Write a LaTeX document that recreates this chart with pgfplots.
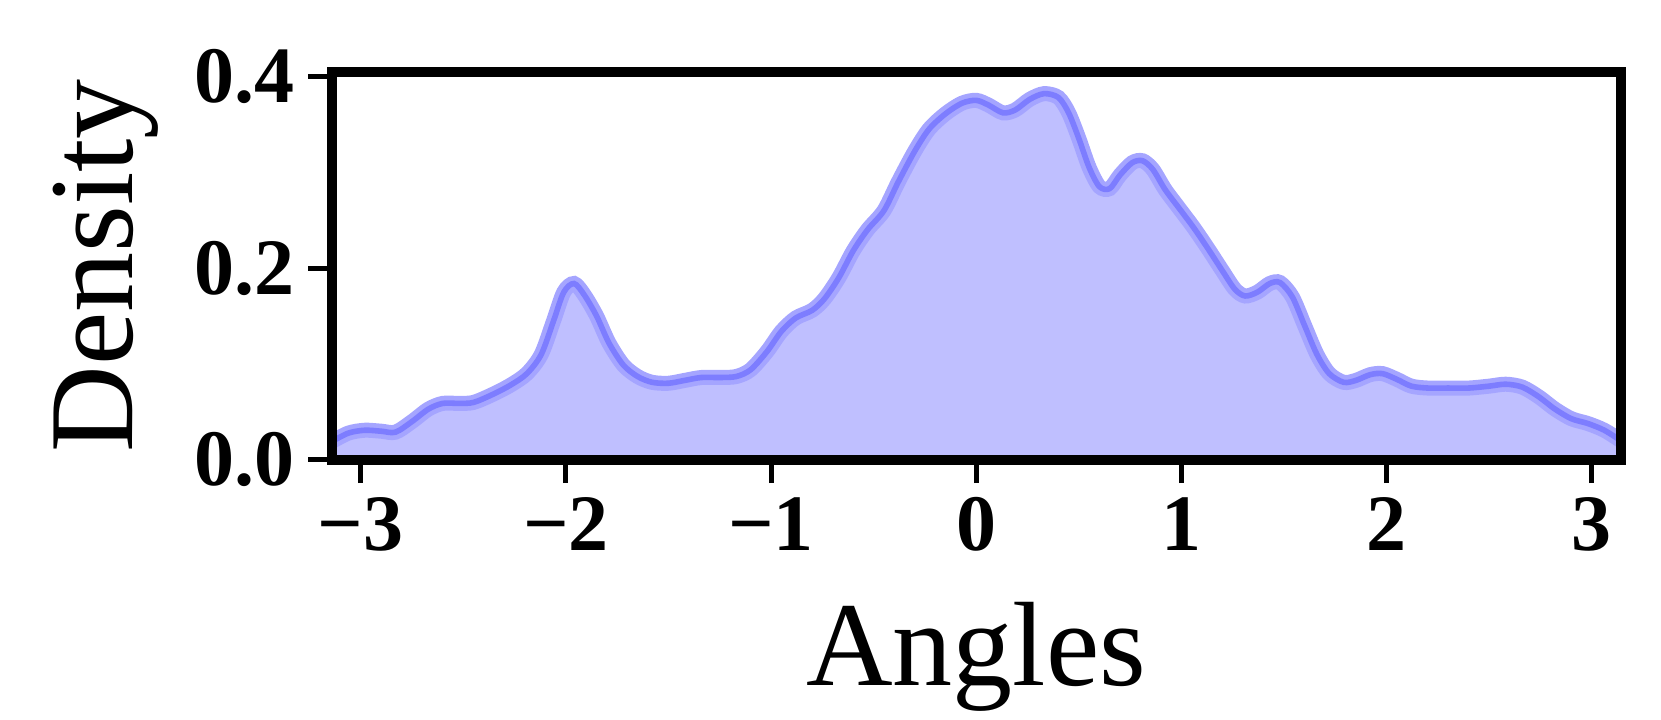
\documentclass[border=0pt]{standalone}
\usepackage{pgfplots}
\pgfplotsset{compat=1.18}
\usepackage{pgfplotstable}
\usepackage{fontspec}
\setmainfont{Liberation Serif}

\definecolor{kdefill}{RGB}{191,191,255}
\definecolor{kdehalo}{RGB}{165,165,255}
\definecolor{kdeline}{RGB}{125,125,255}

% angle, density
\pgfplotstableread{
x y
-3.1416 0.019
-3.06 0.028
-2.98 0.031
-2.90 0.030
-2.83 0.029
-2.75 0.040
-2.67 0.053
-2.60 0.059
-2.52 0.059
-2.45 0.060
-2.36 0.068
-2.27 0.078
-2.19 0.090
-2.12 0.110
-2.06 0.145
-2.01 0.175
-1.96 0.184
-1.91 0.172
-1.85 0.150
-1.79 0.122
-1.72 0.099
-1.65 0.087
-1.58 0.081
-1.50 0.080
-1.42 0.083
-1.34 0.086
-1.25 0.086
-1.17 0.087
-1.10 0.094
-1.02 0.113
-0.95 0.134
-0.88 0.148
-0.80 0.156
-0.74 0.168
-0.67 0.190
-0.60 0.218
-0.53 0.240
-0.45 0.260
-0.38 0.290
-0.30 0.322
-0.23 0.345
-0.15 0.361
-0.07 0.372
0.00 0.375
0.06 0.370
0.13 0.362
0.19 0.365
0.26 0.376
0.33 0.382
0.40 0.378
0.45 0.362
0.50 0.335
0.55 0.305
0.60 0.285
0.65 0.283
0.70 0.297
0.76 0.310
0.81 0.312
0.86 0.303
0.92 0.282
0.99 0.262
1.06 0.242
1.13 0.220
1.20 0.197
1.26 0.178
1.31 0.171
1.37 0.175
1.43 0.184
1.48 0.185
1.54 0.170
1.60 0.140
1.66 0.110
1.72 0.090
1.79 0.081
1.85 0.083
1.92 0.089
1.98 0.090
2.05 0.084
2.12 0.077
2.20 0.075
2.30 0.075
2.40 0.075
2.50 0.077
2.58 0.079
2.66 0.076
2.74 0.066
2.82 0.053
2.90 0.043
2.98 0.038
3.06 0.031
3.1416 0.020
}\kde

\begin{document}
\begin{tikzpicture}
\begin{axis}[
    scale only axis,
    width=322.4pt,
    height=97.1pt,
    xmin=-3.1416, xmax=3.1416,
    ymin=0, ymax=0.405,
    xtick={-3,-2,-1,0,1,2,3},
    xticklabels={−3,−2,−1,0,1,2,3},
    ytick={0,0.2,0.4},
    yticklabels={0.0,0.2,0.4},
    axis line style={line width=2.5pt},
    axis on top,
    tick align=outside,
    major tick length=5.8pt,
    every tick/.style={black, line width=1.25pt},
    xtick pos=bottom, ytick pos=left,
    ticklabel style={font=\fontsize{20}{20}\selectfont\bfseries},
    xlabel={Angles},
    ylabel={Density},
    label style={font=\fontsize{30}{30}\selectfont, inner sep=0pt},
    xlabel style={at={(rel axis cs:0.5,0)}, anchor=base, yshift=-56.5pt},
    ylabel style={at={(rel axis cs:0,0.5)}, anchor=center, yshift=56.4pt},
]
    \addplot[fill=kdefill, draw=none, smooth] table {\kde} \closedcycle;
    \addplot[kdehalo, line width=3.75pt, smooth] table {\kde};
    \addplot[kdeline, line width=1.4pt, smooth] table {\kde};
\end{axis}
\path (current axis.south west) +(-82.9pt,-65pt) (current axis.north east) +(10pt,17.9pt);
\end{tikzpicture}
\end{document}
